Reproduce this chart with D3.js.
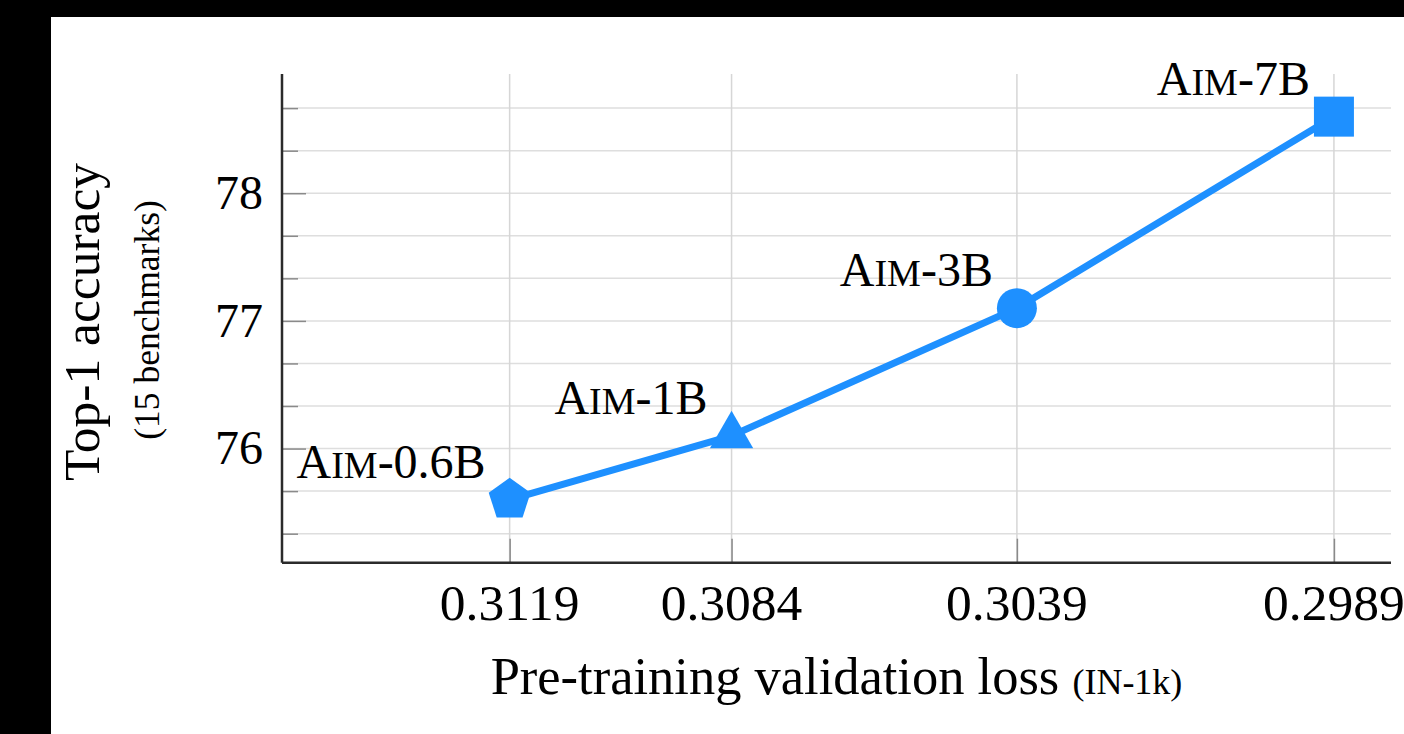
<!DOCTYPE html>
<html>
<head>
<meta charset="utf-8">
<script src="https://cdn.jsdelivr.net/npm/d3@7"></script>
<style>
  html, body { margin: 0; padding: 0; background: #000; }
  #graph { position: absolute; left: 51px; top: 17px; }
</style>
</head>
<body>
<div id="graph"></div>
<script>
// model names split for small caps: [big, smallcaps, rest]
var modelNames = [["A", "IM", "-0.6B"], ["A", "IM", "-1B"], ["A", "IM", "-3B"], ["A", "IM", "-7B"]];
var valLoss = [0.3119, 0.3084, 0.3039, 0.2989];
var top1Acc = [75.6, 76.1, 77.1, 78.6];
var markerShapes = ["pentagon", "triangle", "circle", "square"];
var xTickLabels = ["0.3119", "0.3084", "0.3039", "0.2989"];
var yMajorTicks = [76, 77, 78];
var yMinorTicks = [75.3333, 75.6667, 76.3333, 76.6667, 77.3333, 77.6667, 78.3333, 78.6667];

var w = 1404 - 51; // width of white panel
var h = 734 - 17;  // height
var ox = 51, oy = 17; // panel offset (page coords)

var serif = "'Liberation Serif', 'Times New Roman', serif";
var blue = "#1e90ff";

// page-coordinate positions of the axes, shifted into panel coords
var left = 282 - ox, right = 1391 - ox;
var top_ = 74 - oy, bottom = 562.7 - oy;

var xScale = d3.scaleLinear()
    .domain([0.31549, 0.2980])
    .range([left, right]);

var yScale = d3.scaleLinear()
    .domain([75.106, 78.934])
    .range([bottom, top_]);

var svg = d3.select("#graph")
    .append("svg")
    .attr("width", w)
    .attr("height", h)
    .style("background", "#fff")
    .style("display", "block");

// horizontal grid lines (major and minor look the same)
svg.append("g")
  .selectAll("line")
  .data(yMajorTicks.concat(yMinorTicks))
  .enter().append("line")
  .attr("x1", left).attr("x2", right)
  .attr("y1", d => yScale(d)).attr("y2", d => yScale(d))
  .attr("stroke", "#dedede")
  .attr("stroke-width", 1.5);

// vertical grid lines at each model
svg.append("g")
  .selectAll("line")
  .data(valLoss)
  .enter().append("line")
  .attr("x1", d => xScale(d)).attr("x2", d => xScale(d))
  .attr("y1", top_).attr("y2", bottom)
  .attr("stroke", "#d6d6d6")
  .attr("stroke-width", 1.5);

// inward tick marks
var yAxisMinor = d3.axisRight(yScale)
    .tickValues(yMinorTicks)
    .tickSize(16)
    .tickFormat("");
var yAxisMajor = d3.axisRight(yScale)
    .tickValues(yMajorTicks)
    .tickSize(24)
    .tickFormat("");
var xAxisTicks = d3.axisTop(xScale)
    .tickValues(valLoss)
    .tickSize(24)
    .tickFormat("");

[[yAxisMinor, "translate(" + left + ",0)"],
 [yAxisMajor, "translate(" + left + ",0)"],
 [xAxisTicks, "translate(0," + bottom + ")"]].forEach(function(a) {
  var g = svg.append("g").attr("transform", a[1]).call(a[0]);
  g.select(".domain").remove();
  g.selectAll(".tick line").attr("stroke", "#8a8a8a").attr("stroke-width", 1.5);
});

// axis lines (left and bottom only)
svg.append("line")
  .attr("x1", left).attr("x2", left)
  .attr("y1", top_).attr("y2", bottom)
  .attr("stroke", "#2b2b2b").attr("stroke-width", 2.5);
svg.append("line")
  .attr("x1", left).attr("x2", right)
  .attr("y1", bottom).attr("y2", bottom)
  .attr("stroke", "#2b2b2b").attr("stroke-width", 2.5);

// tick labels
svg.append("g")
  .selectAll("text")
  .data(yMajorTicks)
  .enter().append("text")
  .attr("x", left - 19)
  .attr("y", d => yScale(d))
  .attr("dy", "0.33em")
  .attr("text-anchor", "end")
  .attr("font-family", serif)
  .attr("font-size", "48px")
  .attr("fill", "#000")
  .text(d => d);

svg.append("g")
  .selectAll("text")
  .data(valLoss)
  .enter().append("text")
  .attr("x", d => xScale(d))
  .attr("y", 620 - oy)
  .attr("text-anchor", "middle")
  .attr("font-family", serif)
  .attr("font-size", "51.5px")
  .attr("fill", "#000")
  .text((d, i) => xTickLabels[i]);

// axis titles
var xTitle = svg.append("text")
  .attr("x", (left + right) / 2)
  .attr("y", 694 - oy)
  .attr("text-anchor", "middle")
  .attr("font-family", serif)
  .attr("font-size", "52.5px")
  .attr("fill", "#000");
xTitle.append("tspan").text("Pre-training validation loss ");
xTitle.append("tspan").attr("font-size", "36px").text("(IN-1k)");

svg.append("text")
  .attr("transform", "translate(" + (99 - ox) + "," + (322 - oy) + ") rotate(-90)")
  .attr("text-anchor", "middle")
  .attr("font-family", serif)
  .attr("font-size", "51.5px")
  .attr("fill", "#000")
  .text("Top-1 accuracy");

svg.append("text")
  .attr("transform", "translate(" + (159 - ox) + "," + (320 - oy) + ") rotate(-90)")
  .attr("text-anchor", "middle")
  .attr("font-family", serif)
  .attr("font-size", "35.5px")
  .attr("fill", "#000")
  .text("(15 benchmarks)");

// the line
var points = valLoss.map((d, i) => ({ loss: d, acc: top1Acc[i], shape: markerShapes[i], name: modelNames[i] }));

var line = d3.line()
    .x(d => xScale(d.loss))
    .y(d => yScale(d.acc));

svg.append("path")
  .datum(points)
  .attr("d", line)
  .attr("fill", "none")
  .attr("stroke", blue)
  .attr("stroke-width", 7)
  .attr("stroke-linejoin", "round");

// markers, shape drawn around the scaled point
function polygon(cx, cy, r, n) {
  var pts = [];
  for (var k = 0; k < n; k++) {
    var a = -Math.PI / 2 + k * 2 * Math.PI / n;
    pts.push([cx + r * Math.cos(a), cy + r * Math.sin(a)]);
  }
  return "M" + pts.map(p => p.join(",")).join("L") + "Z";
}

points.forEach(function(d) {
  var cx = xScale(d.loss), cy = yScale(d.acc);
  if (d.shape === "circle") {
    svg.append("circle").attr("cx", cx).attr("cy", cy).attr("r", 20).attr("fill", blue);
  } else if (d.shape === "square") {
    svg.append("rect").attr("x", cx - 20).attr("y", cy - 20)
      .attr("width", 40).attr("height", 40).attr("fill", blue);
  } else if (d.shape === "triangle") {
    svg.append("path").attr("d", polygon(cx, cy, 25, 3)).attr("fill", blue);
  } else {
    svg.append("path").attr("d", polygon(cx, cy, 22, 5)).attr("fill", blue);
  }
});

// model labels, above-left of each point, with small caps
points.forEach(function(d) {
  var t = svg.append("text")
    .attr("x", xScale(d.loss) - 24)
    .attr("y", yScale(d.acc) - 22)
    .attr("text-anchor", "end")
    .attr("font-family", serif)
    .attr("font-size", "48px")
    .attr("fill", "#000");
  t.append("tspan").text(d.name[0]);
  t.append("tspan").attr("font-size", "38px").text(d.name[1]);
  t.append("tspan").text(d.name[2]);
});
</script>
</body>
</html>
